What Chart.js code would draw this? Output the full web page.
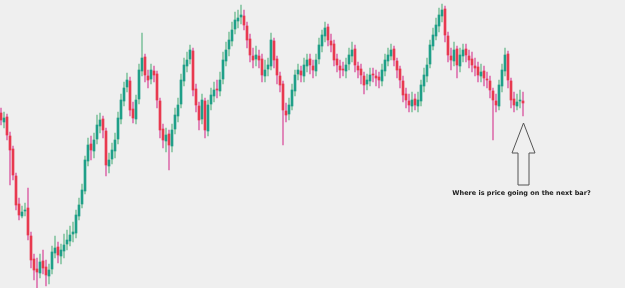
<!DOCTYPE html>
<html>
<head>
<meta charset="utf-8">
<script src="https://cdn.jsdelivr.net/npm/chart.js@4.4.1/dist/chart.umd.min.js"></script>
<style>
  html, body { margin: 0; padding: 0; background: #efefef; }
  #wrap { width: 625px; height: 288px; position: relative; }
</style>
</head>
<body>
<div id="wrap"><canvas id="c"></canvas></div>
<script>
// Candlestick values (price units)
const opens = [175,166,171,152,139,112,84,72,77,80,52,29,19,15,27,21,12,19,35,41,32,37,44,47,54,55,72,84,97,127,144,137,149,162,169,157,122,129,137,149,169,187,201,207,179,169,189,217,231,212,209,217,214,187,159,147,154,142,159,172,184,207,222,229,237,199,182,169,187,157,184,192,199,197,209,227,239,247,259,267,271,272,262,249,232,229,232,229,212,219,222,247,229,212,204,177,174,182,197,214,217,212,222,229,222,217,229,242,252,261,247,244,229,222,219,217,224,232,239,222,219,212,204,207,214,212,211,207,217,227,232,239,227,219,207,194,187,182,189,182,187,202,212,224,242,252,262,272,279,252,232,227,239,222,232,239,232,229,222,221,212,217,209,207,197,187,182,202,217,234,207,189,182,187,187];
const closes = [168,170,153,138,113,83,73,76,78,53,28,18,16,26,20,13,18,36,40,33,38,43,48,53,56,73,83,98,128,143,138,148,163,168,158,123,128,138,148,170,188,200,208,178,170,188,218,230,213,208,218,213,188,158,148,153,143,158,173,183,208,223,228,238,198,183,168,188,158,183,193,198,198,208,228,238,248,258,268,270,273,263,248,233,228,233,228,213,218,223,248,228,213,203,178,173,183,198,213,218,213,223,228,223,218,228,243,253,260,248,243,228,223,218,218,223,233,238,223,218,213,203,208,213,213,210,208,218,228,233,238,228,218,208,193,188,183,188,183,188,203,213,223,243,253,263,273,278,253,233,228,238,223,233,238,233,228,223,220,213,216,210,208,198,188,183,203,218,233,208,188,183,186,188,185];
const highs = [180,176,174,156,142,115,90,82,85,100,56,34,30,34,38,28,24,42,52,46,44,54,58,62,66,78,90,104,132,150,152,155,173,175,172,160,135,145,155,176,194,206,215,211,186,193,224,255,234,218,224,222,217,190,164,160,158,164,180,190,214,230,236,243,240,204,186,194,190,188,200,206,208,216,236,246,256,266,276,278,283,278,266,254,240,242,238,234,228,230,255,250,232,216,207,185,190,204,218,224,222,230,234,234,228,234,250,258,266,264,254,248,234,228,226,230,240,246,243,226,224,216,214,220,220,218,216,224,234,240,244,242,230,222,212,200,194,196,194,196,208,220,230,248,260,270,280,284,282,256,240,246,242,240,244,244,238,236,230,226,224,222,216,212,200,194,208,224,240,237,210,196,194,198,196];
const lows = [163,160,148,103,108,78,68,70,72,48,20,8,0,10,14,2,4,14,30,25,24,30,38,42,46,50,68,80,94,122,128,130,144,155,150,112,115,124,130,144,164,182,196,172,165,164,184,212,206,200,204,206,180,150,140,136,118,136,154,166,180,202,216,224,192,176,158,164,150,152,178,186,190,192,204,222,232,242,254,260,264,258,240,226,220,222,220,206,206,212,218,220,204,196,143,166,168,178,192,208,206,206,216,214,210,212,224,236,246,242,236,222,216,210,212,210,218,226,216,210,204,194,198,202,206,202,200,202,212,222,228,222,210,200,186,180,176,176,178,176,182,196,206,220,238,248,256,266,246,226,218,222,210,216,226,226,220,216,212,206,206,202,200,190,148,176,178,196,212,200,180,176,178,180,172];
const caption = "Where is price going on the next bar?";

const UP_BODY = '#1f9f88', DOWN_BODY = '#e8394f';
const UP_WICK = '#86c4a2', DOWN_WICK = '#dd72ae';

const bodies = opens.map((o, i) => ({ x: i, y: [o, closes[i]] }));
const wicks = opens.map((o, i) => ({ x: i, y: [lows[i], highs[i]] }));
const isUp = i => closes[i] >= opens[i];

const overlay = {
  id: 'overlay',
  beforeDraw(chart) {
    const ctx = chart.ctx;
    ctx.save();
    ctx.fillStyle = '#efefef';
    ctx.fillRect(0, 0, chart.width, chart.height);
    ctx.restore();
  },
  afterDraw(chart) {
    const ctx = chart.ctx;
    const xs = chart.scales.x, ys = chart.scales.y;
    const last = opens.length - 1;
    const tx = Math.round(xs.getPixelForValue(last)) + 0.5;
    const ty = ys.getPixelForValue(lows[last]) + 7;
    ctx.save();
    ctx.strokeStyle = '#555';
    ctx.lineWidth = 1;
    ctx.beginPath();
    ctx.moveTo(tx, ty);
    ctx.lineTo(tx + 11.5, ty + 30);
    ctx.lineTo(tx + 5.5, ty + 30);
    ctx.lineTo(tx + 5.5, ty + 62);
    ctx.lineTo(tx - 5.5, ty + 62);
    ctx.lineTo(tx - 5.5, ty + 30);
    ctx.lineTo(tx - 11.5, ty + 30);
    ctx.closePath();
    ctx.stroke();
    ctx.fillStyle = '#1a1a1a';
    ctx.font = 'bold 6.5px "DejaVu Sans"';
    ctx.textAlign = 'center';
    ctx.textBaseline = 'alphabetic';
    ctx.fillText(caption, tx - 2, ty + 72);
    ctx.restore();
  }
};

new Chart(document.getElementById('c'), {
  type: 'bar',
  data: {
    datasets: [
      {
        data: wicks,
        backgroundColor: ctx => isUp(ctx.dataIndex) ? UP_WICK : DOWN_WICK,
        barThickness: 1,
        grouped: false,
        order: 2,
        minBarLength: 1
      },
      {
        data: bodies,
        backgroundColor: ctx => isUp(ctx.dataIndex) ? UP_BODY : DOWN_BODY,
        barThickness: 2,
        grouped: false,
        order: 1,
        minBarLength: 1
      }
    ]
  },
  options: {
    responsive: true,
    maintainAspectRatio: false,
    animation: false,
    layout: { padding: 0 },
    plugins: { legend: { display: false }, tooltip: { enabled: false } },
    scales: {
      x: { type: 'linear', display: false, min: -1/3, max: 208, offset: false },
      y: { display: false, min: 0, max: 288 }
    }
  },
  plugins: [overlay]
});
</script>
</body>
</html>
